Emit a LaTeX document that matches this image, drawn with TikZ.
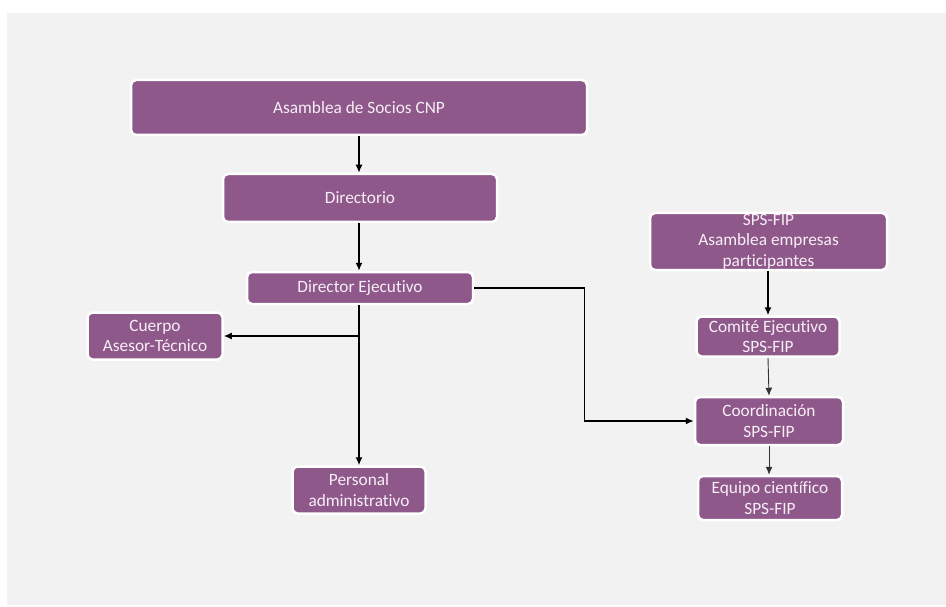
\documentclass[tikz,border=0pt]{standalone}
\usepackage{fontspec}
\setmainfont{Carlito}[Ligatures=NoCommon]
\usetikzlibrary{arrows.meta}
\definecolor{boxfill}{RGB}{142,89,138}
\definecolor{boxtext}{RGB}{248,238,246}
\definecolor{bggray}{RGB}{242,242,242}
\tikzset{
  orgbox/.style={draw=white, line width=2.5pt, fill=boxfill, rounded corners=5pt,
    text=boxtext, align=center, inner sep=0pt, font=\fontsize{17.3}{20.5}\selectfont},
  conn/.style={draw=black, line width=1.4pt, -{Latex[length=8pt,width=7pt]}},
  thinconn/.style={draw=black!80, line width=0.9pt, -{Latex[length=8pt,width=7pt]}}
}
\begin{document}
\begin{tikzpicture}[x=1pt,y=-1pt]
\useasboundingbox (0,0) rectangle (946,607);
\fill[white] (0,0) rectangle (946,607);
\fill[bggray] (7,13) rectangle (946,605);

\node[orgbox, minimum width=456pt, minimum height=55pt] (asam) at (359,107.5) {Asamblea de Socios CNP};
\node[orgbox, minimum width=274pt, minimum height=48pt] (dirc) at (360,198) {Directorio};
\node[orgbox, minimum width=226pt, minimum height=32pt] (dej) at (360,288) {Director Ejecutivo};
\node[orgbox, minimum width=135pt, minimum height=47pt] (cuer) at (155,336) {Cuerpo\\Asesor-Técnico};
\node[orgbox, minimum width=133pt, minimum height=47pt] (pers) at (359,490) {Personal\\administrativo};
\node[orgbox, minimum width=237pt, minimum height=57pt] (spsa) at (768.5,241.5) {SPS-FIP\\Asamblea empresas\\participantes};
\node[orgbox, minimum width=143pt, minimum height=40pt] (comi) at (768,336.5) {Comité Ejecutivo\\SPS-FIP};
\node[orgbox, minimum width=148pt, minimum height=48pt] (coor) at (769,421) {Coordinación\\SPS-FIP};
\node[orgbox, minimum width=144pt, minimum height=44pt] (equi) at (770,498) {Equipo científico\\SPS-FIP};

\coordinate (top1) at (359,135);
\draw[conn] (asam.south -| top1) -- (dirc.north -| top1);
\draw[conn] (dirc.south -| top1) -- (dej.north -| top1);
\coordinate (br) at (359,336);
\draw[conn] (dej.south -| br) -- (pers.north -| br);
\draw[conn] (br) -- (cuer.east);
\draw[conn] (dej.east) -- ++(110,0) |- (coor.west);
\draw[conn] (spsa.south -| comi.north) -- (comi.north);
\draw[thinconn] (comi.south) -- (coor.north);
\draw[thinconn] (coor.south) -- (equi.north -| coor.south);
\end{tikzpicture}
\end{document}
